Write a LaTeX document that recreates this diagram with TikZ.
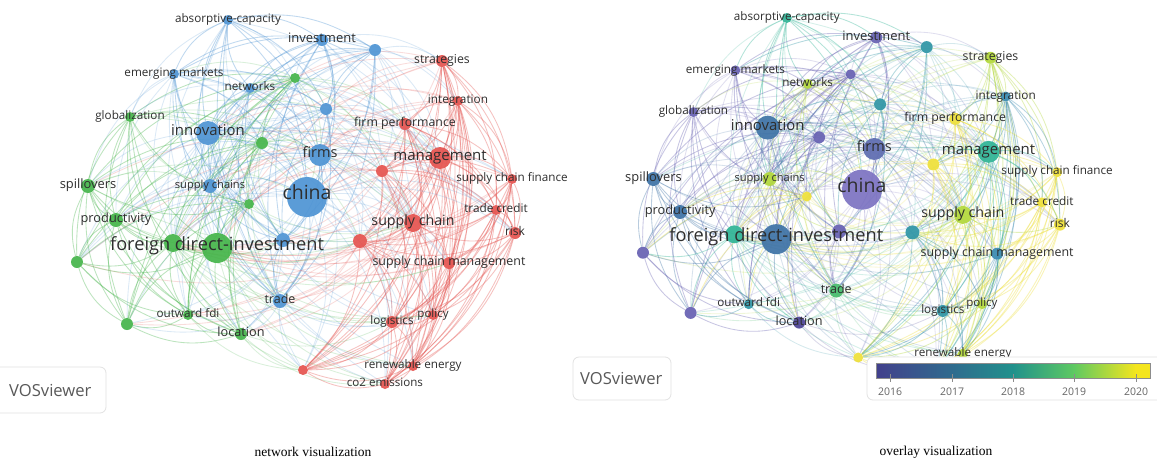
\documentclass[tikz,border=0pt]{standalone}
\usepackage{fontspec}
\setmainfont{Liberation Serif}
\newfontfamily\osans{Open Sans}
\usetikzlibrary{backgrounds}
\pgfdeclarelayer{bottom}
\pgfsetlayers{bottom,background,main}
% cluster colours
\definecolor{cR}{HTML}{E5534F}
\definecolor{cG}{HTML}{45B54A}
\definecolor{cB}{HTML}{4E94D4}
% overlay colours
\definecolor{ovP}{HTML}{6660B2}
\definecolor{ovFB}{HTML}{5D6BB0}
\definecolor{ovL}{HTML}{7C72C2}
\definecolor{ovDP}{HTML}{4D4396}
\definecolor{ovSB}{HTML}{3D72A6}
\definecolor{ovTB}{HTML}{3889B0}
\definecolor{ovT}{HTML}{2E95A5}
\definecolor{ovTG}{HTML}{2EB495}
\definecolor{ovG}{HTML}{46BC6C}
\definecolor{ovYG}{HTML}{B2D83A}
\definecolor{ovY}{HTML}{EEE038}
\definecolor{labelc}{HTML}{2E2E2E}
\definecolor{v0}{HTML}{413F8C}
\definecolor{v16}{HTML}{3F488C}
\definecolor{v17}{HTML}{2F6B8E}
\definecolor{v18}{HTML}{21918C}
\definecolor{v19}{HTML}{5EC962}
\definecolor{v20}{HTML}{F4E51E}
\definecolor{boxline}{HTML}{E2E2E2}

\def\nodedata{1/228/20/5/3/cB/ovTG/absorptive-capacity/11.7,
2/322/40/6/3/cB/ovP/investment/13,
3/375/50/6/3/cB/ovT//11,
4/442/61/6/1/cR/ovYG/strategies/12.3,
5/295/78/5/2/cG/ovP//11,
6/174/74/5/3/cB/ovP/emerging markets/11.7,
7/250/88/5/3/cB/ovYG/networks/11.7,
8/458/101/5/1/cR/ovTB/integration/11.8,
9/326/109/6/3/cB/ovT//11,
10/130/117/5/2/cG/ovP/globalization/11.7,
11/405/124/6/1/cR/ovY/firm performance/12.3,
12/208/133/12/3/cB/ovSB/innovation/14.9,
13/262/143/6/2/cG/ovP//11,
14/320/155/11/3/cB/ovFB/firms/14.5,
15/440/158/11/1/cR/ovTG/management/15,
16/382/171/6/1/cR/ovY//11,
17/512/179/5/1/cR/ovY/supply chain finance/11.7,
18/88/186/7/2/cG/ovSB/spillovers/12.9,
19/210/186/7/3/cB/ovYG/supply chains/11.1,
20/307/197/20/3/cB/ovL/china/19.5,
21/249/204/5/2/cG/ovY//11,
22/496/210/5/1/cR/ovY/trade credit/11.8,
23/116/220/7/2/cG/ovSB/productivity/12.8,
24/413/223/9/1/cR/ovYG/supply chain/14.2,
25/515/233/6/1/cR/ovY/risk/12,
26/173/243/9/2/cG/ovTG//11,
27/217/248/15/2/cG/ovSB/foreign direct-investment/18.2,
28/283/240/7/3/cB/ovP//11,
29/360/241/7/1/cR/ovT//11,
30/77/262/6/2/cG/ovP//11,
31/449/263/6/1/cR/ovTB/supply chain management/12.4,
32/280/301/7/3/cB/ovG/trade/12.5,
33/188/315/5/2/cG/ovT/outward fdi/11.7,
34/127/324/6/2/cG/ovP//11,
35/241/334/6/2/cG/ovDP/location/12.7,
36/433/315/5/1/cR/ovYG/policy/11.5,
37/392/322/6/1/cR/ovT/logistics/11.7,
38/303/370/5/1/cR/ovY//11,
39/413/366/5/1/cR/ovYG/renewable energy/11.7,
40/385/384/5/1/cR/ovY/co2 emissions/11.6}

\foreach \k/\x/\y/\r/\c/\cl/\ov/\t/\f in \nodedata {%
  \pgfmathtruncatemacro\h{\r>=9}%
  \expandafter\xdef\csname nx\k\endcsname{\x}%
  \expandafter\xdef\csname ny\k\endcsname{\y}%
  \expandafter\xdef\csname nr\k\endcsname{\r}%
  \expandafter\xdef\csname nc\k\endcsname{\c}%
  \expandafter\xdef\csname nh\k\endcsname{\h}%
  \expandafter\xdef\csname ncl\k\endcsname{\cl}%
  \expandafter\xdef\csname nov\k\endcsname{\ov}%
  \expandafter\xdef\csname nt\k\endcsname{\t}%
  \expandafter\xdef\csname nf\k\endcsname{\f}%
}

\newcommand\mypanel[2]{%
  \foreach \k in {1,...,40}{%
    \node[dot, minimum size={2*\csname nr\k\endcsname}, fill=\csname #2\k\endcsname] (#1\k)
      at (\csname nx\k\endcsname,\csname ny\k\endcsname) {};
  }%
  \foreach \k in {1,...,40}{%
    \node[lbl, font=\osans\fontsize{\csname nf\k\endcsname}{\csname nf\k\endcsname}\selectfont] (#1\k t) at (#1\k) {\csname nt\k\endcsname};
  }%
  \begin{pgfonlayer}{background}
  \foreach \i in {1,...,39}{%
    \pgfmathtruncatemacro\js{\i+1}%
    \foreach \j in {\js,...,40}{%
      \edef\xi{\csname nx\i\endcsname}\edef\yi{\csname ny\i\endcsname}%
      \edef\xj{\csname nx\j\endcsname}\edef\yj{\csname ny\j\endcsname}%
      \pgfmathtruncatemacro\same{\csname nc\i\endcsname==\csname nc\j\endcsname}%
      \pgfmathtruncatemacro\ok{(\same==1) || (\csname nh\i\endcsname==1) || (\csname nh\j\endcsname==1) || (veclen((\xi-\xj)/100,(\yi-\yj)/100)<1.6)}%
      \ifnum\ok=1
        \pgfmathtruncatemacro\bl{(((\xj-\xi)/100)*(((\yi+\yj)/2-200)/100) - ((\yj-\yi)/100)*(((\xi+\xj)/2-300)/100))<0}%
        \ifnum\bl=1 \def\bang{22}\else\def\bang{-22}\fi
        \ifnum\same=1 \def\op{0.36}\else\def\op{0.2}\fi
        \draw[edge, draw=\csname #2\i\endcsname, draw opacity=\op] (#1\i) to[bend left=\bang] (#1\j);
      \fi
    }%
  }%
  \end{pgfonlayer}
}

\begin{document}
\begin{tikzpicture}[x=1pt,y=-1pt,
  dot/.style={circle, inner sep=0pt, draw=none, fill opacity=0.92},
  lbl/.style={inner sep=0pt, text=labelc, text height=0.55em, text depth=0pt},
  edge/.style={line width=0.85pt},
  badge/.style={draw=boxline, line width=0.8pt, fill=white, rounded corners=6pt},
  badgetext/.style={font=\osans\fontsize{16.6}{16.6}\selectfont, text=black!65, inner sep=0pt},
  tickl/.style={font=\osans\fontsize{10.5}{10.5}\selectfont, text=black!60, inner sep=0pt},
  captxt/.style={font=\fontsize{13.5}{13.5}\selectfont, inner sep=0pt}]
\useasboundingbox (0,0) rectangle (1157,464);
\begin{pgfonlayer}{bottom}
\fill[white] (0,0) rectangle (1157,464);
\end{pgfonlayer}

% left: network visualization
\mypanel{L}{ncl}
\draw[badge] (-8,367) rectangle (106,413);
\node[badgetext, anchor=west] (lvos) at (9,390) {VOSviewer};

% right: overlay visualization
\begin{scope}[shift={(569.7,-1.4)}, xscale=0.952, yscale=0.97]
\mypanel{R}{nov}
\end{scope}
\draw[badge] (573,357) rectangle (671,400);
\node[badgetext, anchor=west] (rvos) at (580,378) {VOSviewer};

% colour bar
\draw[badge] (867,357) rectangle (1170,400);
\shade[left color=v0, right color=v16] (876,363) rectangle (890,378);
\shade[left color=v16, right color=v17] (889.6,363) rectangle (952,378);
\shade[left color=v17, right color=v18] (951.6,363) rectangle (1013,378);
\shade[left color=v18, right color=v19] (1012.6,363) rectangle (1074,378);
\shade[left color=v19, right color=v20] (1073.6,363) rectangle (1136,378);
\shade[left color=v20, right color=v20] (1135.6,363) rectangle (1150,378);
\draw[black!45, line width=0.6pt] (876,363) rectangle (1150,378);
\foreach \yr/\xx in {2016/890,2017/952,2018/1013,2019/1074,2020/1136}{
  \draw[black!45, line width=0.8pt] (\xx,374) -- (\xx,382);
  \node[tickl] (t\yr) at (\xx,392) {\yr};
}

% captions
\node[captxt] (cap1) at (313,452) {network visualization};
\node[captxt] (cap2) at (936,452) {overlay visualization};
\end{tikzpicture}
\end{document}
